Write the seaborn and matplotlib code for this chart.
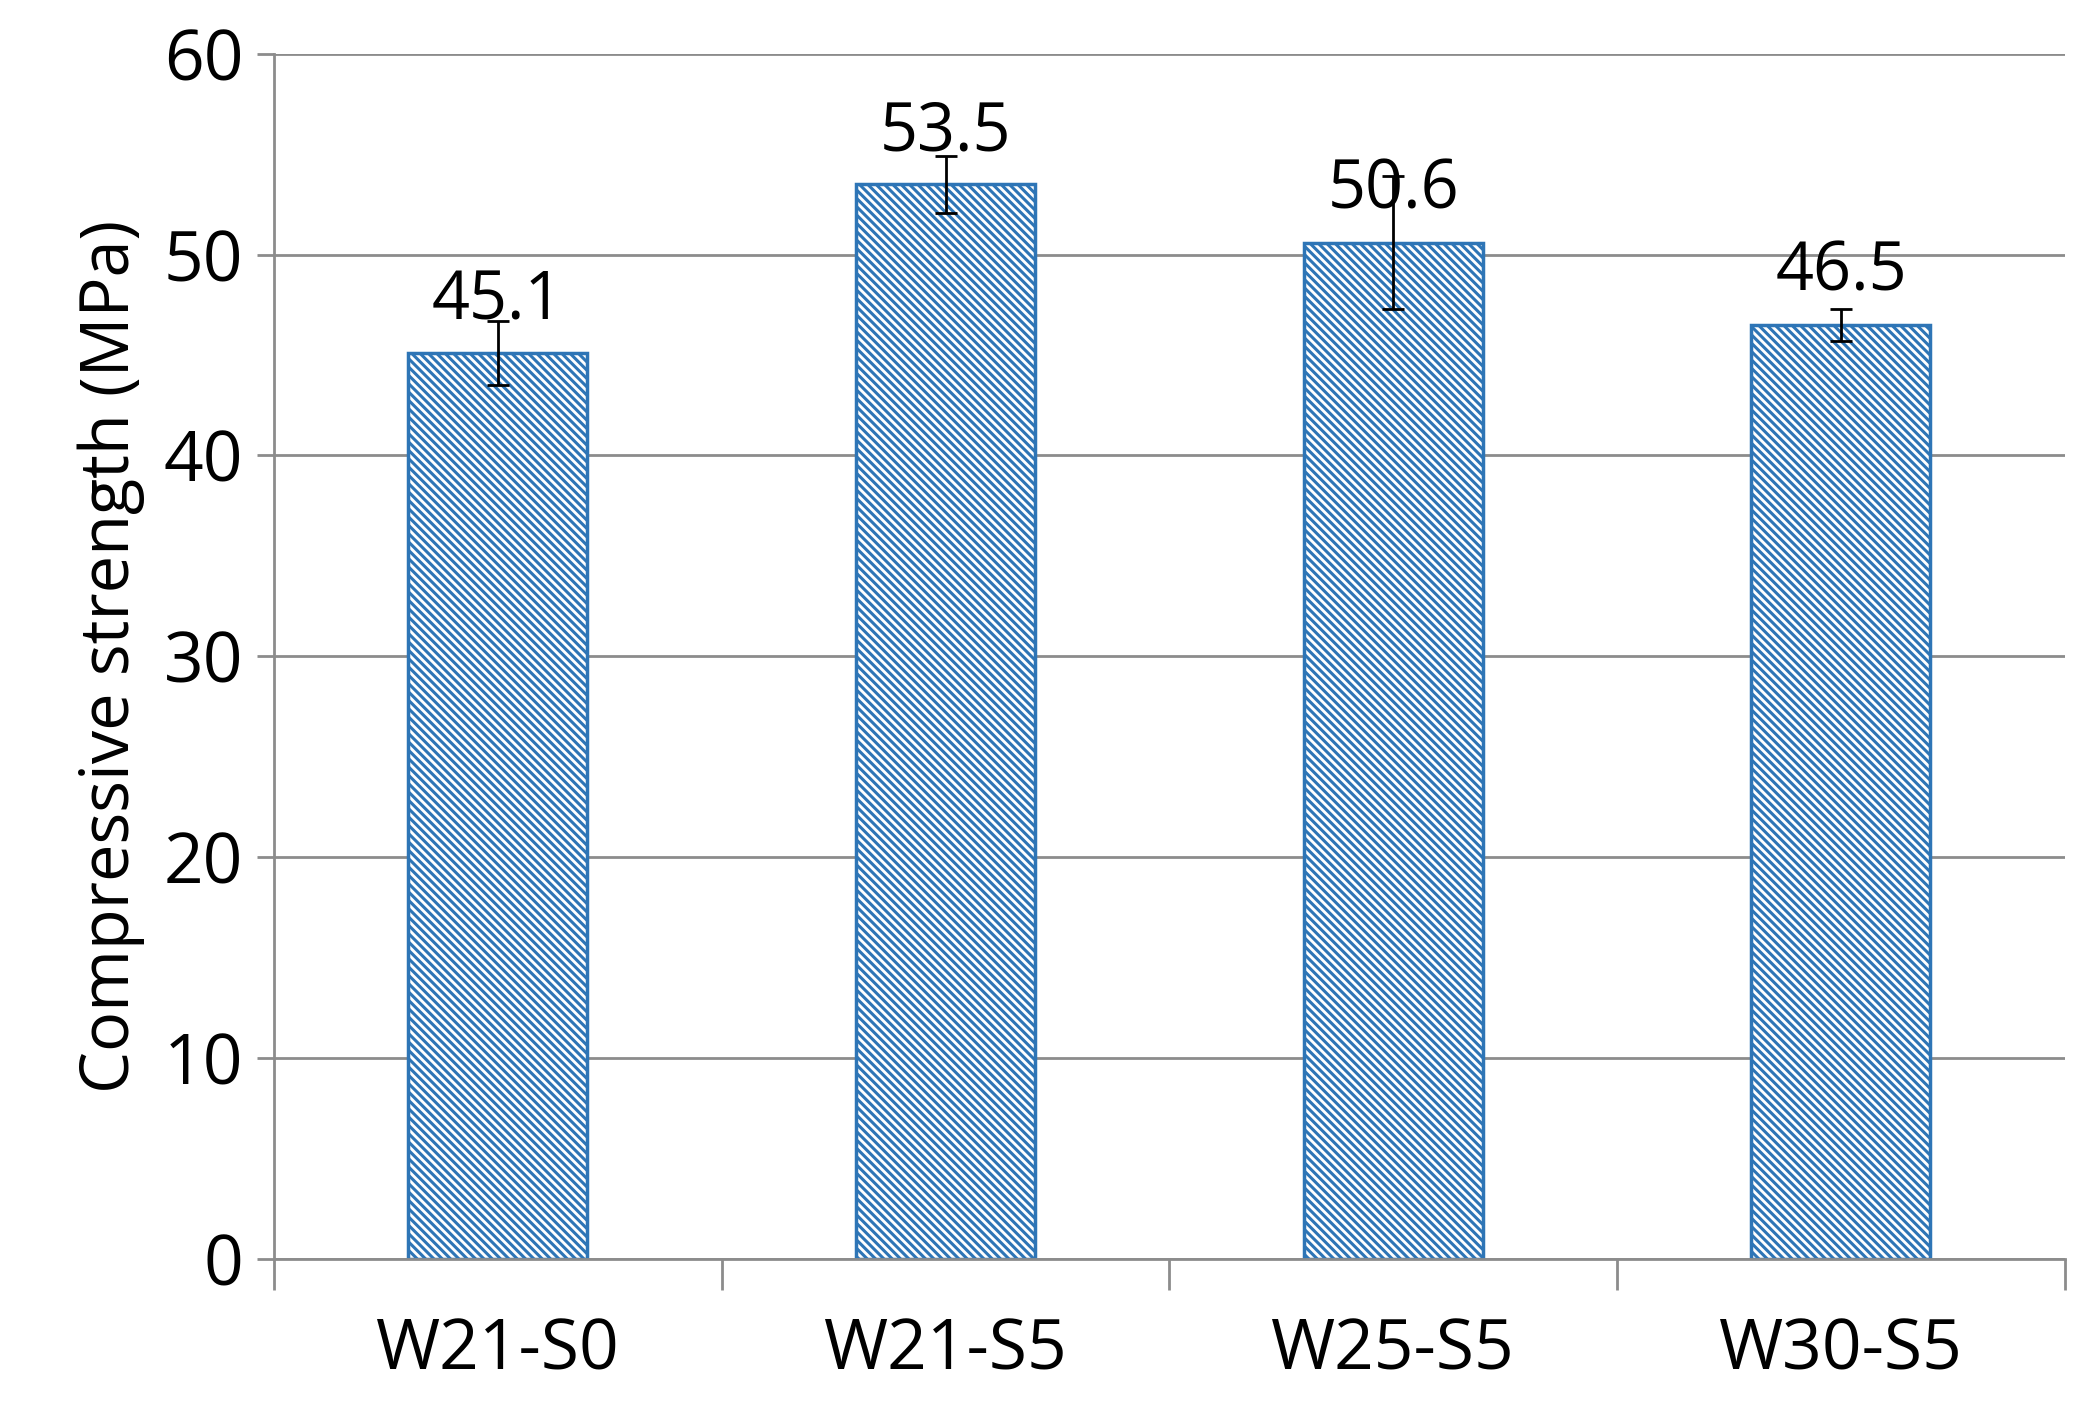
import matplotlib.pyplot as plt
import seaborn as sns
import pandas as pd
import numpy as np

mixes = ["W21-S0", "W21-S5", "W25-S5", "W30-S5"]
strength = [45.1, 53.5, 50.6, 46.5]
errors = [1.6, 1.4, 3.3, 0.8]

df = pd.DataFrame({"mix": mixes, "strength": strength})

sns.set_style("white")
plt.rcParams['font.family'] = ['Open Sans', 'DejaVu Sans']
plt.rcParams['text.color'] = 'black'
plt.rcParams['xtick.color'] = 'black'
plt.rcParams['ytick.color'] = 'black'
plt.rcParams['axes.labelcolor'] = 'black'
plt.rcParams['hatch.color'] = '#2E75B6'
plt.rcParams['hatch.linewidth'] = 2.2

fig = plt.figure(figsize=(20.92, 14.19), dpi=100)
ax = fig.add_axes([0.131, 0.113, 0.856, 0.849])

sns.barplot(data=df, x="mix", y="strength", color="white", width=0.4,
            edgecolor="#2E75B6", linewidth=2.5, hatch="\\\\\\\\", ax=ax,
            saturation=1, errorbar=None)
ax.errorbar(np.arange(len(mixes)), strength, yerr=errors, fmt="none",
            ecolor="black", elinewidth=2, capsize=8, capthick=2, zorder=5)

for i, v in enumerate(strength):
    ax.text(i, v + 0.9, f"{v}", ha="center", va="bottom", fontsize=48)

ax.set_ylim(0, 60)
ax.set_xlim(-0.5, 3.5)
ax.set_yticks(range(0, 61, 10))
ax.yaxis.grid(True, color="#8c8c8c", linewidth=2)
ax.set_axisbelow(True)
for s in ["top", "right"]:
    ax.spines[s].set_visible(False)
for s in ["left", "bottom"]:
    ax.spines[s].set_color("#8c8c8c")
    ax.spines[s].set_linewidth(2)

ax.set_xticks(np.arange(-0.5, 4, 1), minor=False)
ax.set_xticklabels([])
ax.set_xticks(np.arange(len(mixes)), minor=True)
ax.set_xticklabels(mixes, minor=True)
ax.tick_params(axis="x", which="major", bottom=True, length=22, width=2, color="#8c8c8c", direction="out")
ax.tick_params(axis="x", which="minor", bottom=False, length=0, pad=42, labelsize=50)
ax.tick_params(axis="y", left=True, length=12, width=2, color="#8c8c8c", direction="out", labelsize=50, pad=10)

ax.set_xlabel("")
ax.set_ylabel("Compressive strength (MPa)", fontsize=48, labelpad=14)

fig.savefig("out.png", dpi=100)
